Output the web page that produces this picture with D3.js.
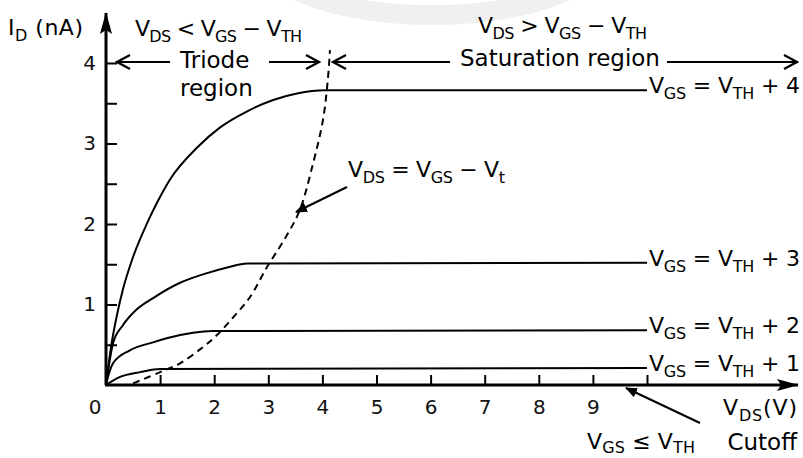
<!DOCTYPE html>
<html>
<head>
<meta charset="utf-8">
<script src="https://cdn.jsdelivr.net/npm/d3@7/dist/d3.min.js"></script>
<style>
  body { margin: 0; background: #fff; }
  svg { display: block; font-family: "DejaVu Sans", Verdana, sans-serif; }
  text { white-space: pre; }
</style>
</head>
<body>
<div id="chart"></div>
<script>
// Curvas I_D x V_DS: [V_DS (V), I_D (nA)]
const curveLabels = ["4", "3", "2", "1"];
const vgs4 = [[0, 0], [0.1, 0.5], [0.2, 0.86], [0.31, 1.18], [0.5, 1.59], [0.76, 2.01],
  [0.94, 2.26], [1.18, 2.55], [1.7, 2.96], [2.11, 3.2], [2.61, 3.4], [3.09, 3.54], [3.53, 3.62],
  [4.05, 3.66], [10, 3.66]];
const vgs3 = [[0, 0], [0.07, 0.31], [0.13, 0.52], [0.31, 0.74], [0.57, 0.94], [0.87, 1.08], [1.37, 1.27],
  [1.87, 1.39], [2.24, 1.46], [2.61, 1.51], [10, 1.52]];
const vgs2 = [[0, 0], [0.05, 0.13], [0.13, 0.27], [0.44, 0.43], [0.87, 0.53], [1.37, 0.62], [1.61, 0.65],
  [1.98, 0.67], [10, 0.68]];
const vgs1 = [[0, 0], [0.26, 0.1], [0.63, 0.16], [1.0, 0.2], [10, 0.21]];
// Limite triodo / saturação (tracejada)
const saturationEdge = [[0.5, 0.02], [1.0, 0.16], [1.37, 0.27], [1.79, 0.47], [2.05, 0.62], [2.35, 0.84],
  [2.66, 1.09], [2.98, 1.47], [3.29, 1.8], [3.58, 2.17], [3.83, 2.76], [4.01, 3.29], [4.1, 3.79], [4.14, 4.16]];

const xTicks = [1, 2, 3, 4, 5, 6, 7, 8, 9, 10];
const yTicks = [0.5, 1, 1.5, 2, 2.5, 3, 3.5, 4];

const width = 803;
const height = 458;
const mainSize = 22;
const subSize = 16;
const wordSize = 23;

const svg = d3
  .select("#chart")
  .append("svg")
  .attr("width", width)
  .attr("height", height);

// Marca d'água clara no topo
svg.append("ellipse").attr("cx", 432).attr("cy", -40).attr("rx", 175).attr("ry", 65).attr("fill", "#f0f0f0");
svg.append("ellipse").attr("cx", 432).attr("cy", -40).attr("rx", 150).attr("ry", 45).attr("fill", "#fff");

// Marcadores de seta
const defs = svg.append("defs");
defs.append("marker")
  .attr("id", "axisHead")
  .attr("viewBox", "0 0 22 12")
  .attr("markerUnits", "userSpaceOnUse")
  .attr("markerWidth", 22).attr("markerHeight", 12)
  .attr("refX", 21).attr("refY", 6)
  .attr("orient", "auto")
  .append("path").attr("d", "M0,0 L22,6 L0,12 L4,6 Z").attr("fill", "#000");
defs.append("marker")
  .attr("id", "smallHead")
  .attr("viewBox", "0 0 12 10")
  .attr("markerUnits", "userSpaceOnUse")
  .attr("markerWidth", 12).attr("markerHeight", 10)
  .attr("refX", 11).attr("refY", 5)
  .attr("orient", "auto")
  .append("path").attr("d", "M0,0 L12,5 L0,10 Z").attr("fill", "#000");
defs.append("marker")
  .attr("id", "openHead")
  .attr("viewBox", "0 0 16 18")
  .attr("markerUnits", "userSpaceOnUse")
  .attr("markerWidth", 16).attr("markerHeight", 18)
  .attr("refX", 14).attr("refY", 9)
  .attr("orient", "auto")
  .append("path").attr("d", "M1,2 L14,9 L1,16")
  .attr("fill", "none").attr("stroke", "#000").attr("stroke-width", 2.2);

// Escalas
const x = d3.scaleLinear().domain([0, 10]).range([106, 647]);
const y = d3.scaleLinear().domain([0, 4]).range([385, 63]);

// Eixo X
const xAxis = svg
  .append("g")
  .attr("transform", `translate(0,${y(0)})`)
  .call(
    d3.axisBottom(x)
      .tickValues(xTicks)
      .tickSizeInner(-10)
      .tickSizeOuter(0)
      .tickPadding(15)
      .tickFormat((d) => (d < 10 ? d : ""))
  );
xAxis.select(".domain").remove();
xAxis.selectAll(".tick line").attr("stroke-width", 2);
xAxis.selectAll("text").attr("font-size", "20px").attr("font-family", "DejaVu Sans").attr("fill", "#111");

// Eixo Y
const yAxis = svg
  .append("g")
  .attr("transform", `translate(${x(0)},0)`)
  .call(
    d3.axisLeft(y)
      .tickValues(yTicks)
      .tickSizeInner(-11)
      .tickSizeOuter(0)
      .tickPadding(10)
      .tickFormat((d) => (Number.isInteger(d) ? d : ""))
  );
yAxis.select(".domain").remove();
yAxis.selectAll(".tick line").attr("stroke-width", 2);
yAxis.selectAll("text").attr("font-size", "20px").attr("font-family", "DejaVu Sans").attr("fill", "#111");

// "0" na origem
svg.append("text")
  .attr("x", x(0) - 11)
  .attr("y", y(0) + 29)
  .attr("text-anchor", "middle")
  .attr("font-size", "20px")
  .attr("fill", "#111")
  .text("0");

// Linhas dos eixos com setas
svg.append("line")
  .attr("x1", x(0)).attr("y1", y(0))
  .attr("x2", x(0)).attr("y2", 13)
  .attr("stroke", "#000").attr("stroke-width", 3)
  .attr("marker-end", "url(#axisHead)");
svg.append("line")
  .attr("x1", x(0) - 1).attr("y1", y(0))
  .attr("x2", 798).attr("y2", y(0))
  .attr("stroke", "#000").attr("stroke-width", 3)
  .attr("marker-end", "url(#axisHead)");

// Curvas
const line = d3
  .line()
  .x((d) => x(d[0]))
  .y((d) => y(d[1]))
  .curve(d3.curveMonotoneX);

const series = [vgs4, vgs3, vgs2, vgs1];
svg.selectAll(".curve")
  .data(series)
  .enter()
  .append("path")
  .attr("class", "curve")
  .attr("d", line)
  .attr("fill", "none")
  .attr("stroke", "#000")
  .attr("stroke-width", 2);

svg.append("path")
  .datum(saturationEdge)
  .attr("d", line.curve(d3.curveCatmullRom))
  .attr("fill", "none")
  .attr("stroke", "#000")
  .attr("stroke-width", 2)
  .attr("stroke-dasharray", "7,5");

// Texto com subscritos: partes [texto, subscrito?]; len = largura total
function richText(px, py, parts, len, subShift) {
  const shift = subShift || 6;
  const t = svg.append("text")
    .attr("x", px)
    .attr("y", py)
    .attr("fill", "#000");
  if (len) t.attr("textLength", len).attr("lengthAdjust", "spacing");
  let prevSub = false;
  parts.forEach(([s, sub]) => {
    t.append("tspan")
      .attr("font-size", (sub ? subSize : mainSize) + "px")
      .attr("dy", sub === prevSub ? 0 : sub ? shift : -shift)
      .text(s);
    prevSub = sub;
  });
  return t;
}

// Rótulos das curvas
series.forEach((s, i) => {
  const last = s[s.length - 1];
  richText(x(last[0]) + 2, y(last[1]) + 3, [
    ["V", false], ["GS", true], [" = V", false], ["TH", true], [" + " + curveLabels[i], false],
  ], 151);
});

// Título do eixo Y e do eixo X
richText(8, 35, [["I", false], ["D", true], [" (nA)", false]], 75);
richText(723, 415, [["V", false], ["DS", true], ["(V)", false]], 74);

// Regiões
richText(135, 36, [["V", false], ["DS", true], [" < V", false], ["GS", true], [" − V", false], ["TH", true]], 167);
richText(478, 33, [["V", false], ["DS", true], [" > V", false], ["GS", true], [" − V", false], ["TH", true]], 169);

const plain = (px, py, s, anchor) =>
  svg.append("text")
    .attr("x", px).attr("y", py)
    .attr("font-size", wordSize + "px")
    .attr("text-anchor", anchor || "start")
    .text(s);

plain(180, 68, "Triode");
plain(180, 96, "region");
plain(460, 66, "Saturation region");

// Setas das regiões
const arrowRow = 62;
const regionArrows = [[170, 117], [269, 319], [450, 333], [667, 797]];
regionArrows.forEach(([a, b]) => {
  svg.append("line")
    .attr("x1", a).attr("y1", arrowRow)
    .attr("x2", b).attr("y2", arrowRow)
    .attr("stroke", "#000").attr("stroke-width", 2)
    .attr("marker-end", "url(#openHead)");
});

// Anotação da curva tracejada
richText(348, 177, [["V", false], ["DS", true], [" = V", false], ["GS", true], [" − V", false], ["t", true]], 157);
svg.append("line")
  .attr("x1", 347).attr("y1", 187)
  .attr("x2", 296).attr("y2", 212)
  .attr("stroke", "#000").attr("stroke-width", 2)
  .attr("marker-end", "url(#smallHead)");

// Corte
richText(587, 449, [["V", false], ["GS", true], [" ≤ V", false], ["TH", true]], 108, 4);
plain(797, 450, "Cutoff", "end");
svg.append("line")
  .attr("x1", 700).attr("y1", 423)
  .attr("x2", 626).attr("y2", 388)
  .attr("stroke", "#000").attr("stroke-width", 2)
  .attr("marker-end", "url(#smallHead)");
</script>
</body>
</html>
